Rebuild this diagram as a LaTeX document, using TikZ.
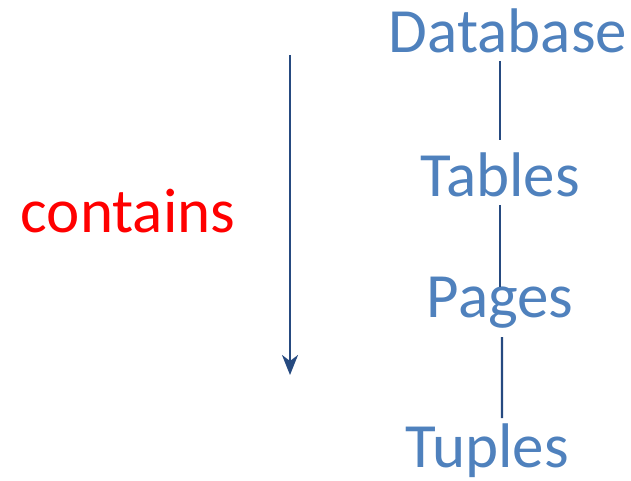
\documentclass[tikz,border=0pt]{standalone}
\usepackage{fontspec}
\setmainfont{Carlito}
\usetikzlibrary{arrows.meta}
\definecolor{itemblue}{RGB}{79,129,189}
\definecolor{linkblue}{RGB}{38,74,128}
\tikzset{
  level/.style={text=itemblue, anchor=base, inner sep=0pt, font=\fontsize{63bp}{70bp}\selectfont},
  link/.style={draw=linkblue, line width=2.2bp}
}
\begin{document}
\begin{tikzpicture}[x=1bp,y=-1bp,>={Stealth[length=20bp,width=16bp,inset=6bp]}, line join=round]
                \useasboundingbox (0,0) rectangle (631,481);
                % hierarchy
                \node[level] (db) at (508,53) {Database};
                \node[level] (tab) at (500,197) {Tables};
                \node[level] (pag) at (500,317) {Pages};
                \node[level] (tup) at (487,467) {Tuples};
                \draw[link] ([yshift=-8bp]db.base -| tab.base) -- ([yshift=57bp]tab.base);
                \draw[link] ([yshift=-8bp]tab.base) -- ([yshift=30bp]pag.base);
                \draw[link] ([shift={(2bp,-20bp)}]pag.base) -- ([shift={(15bp,49bp)}]tup.base);
                % left side
                \node[level, text=red] (cont) at (128,233) {contains};
                \coordinate (top) at (290,55);
                \coordinate (bot) at (290,375);
                \draw[link,->] (top) -- (bot);
            \end{tikzpicture}
\end{document}
